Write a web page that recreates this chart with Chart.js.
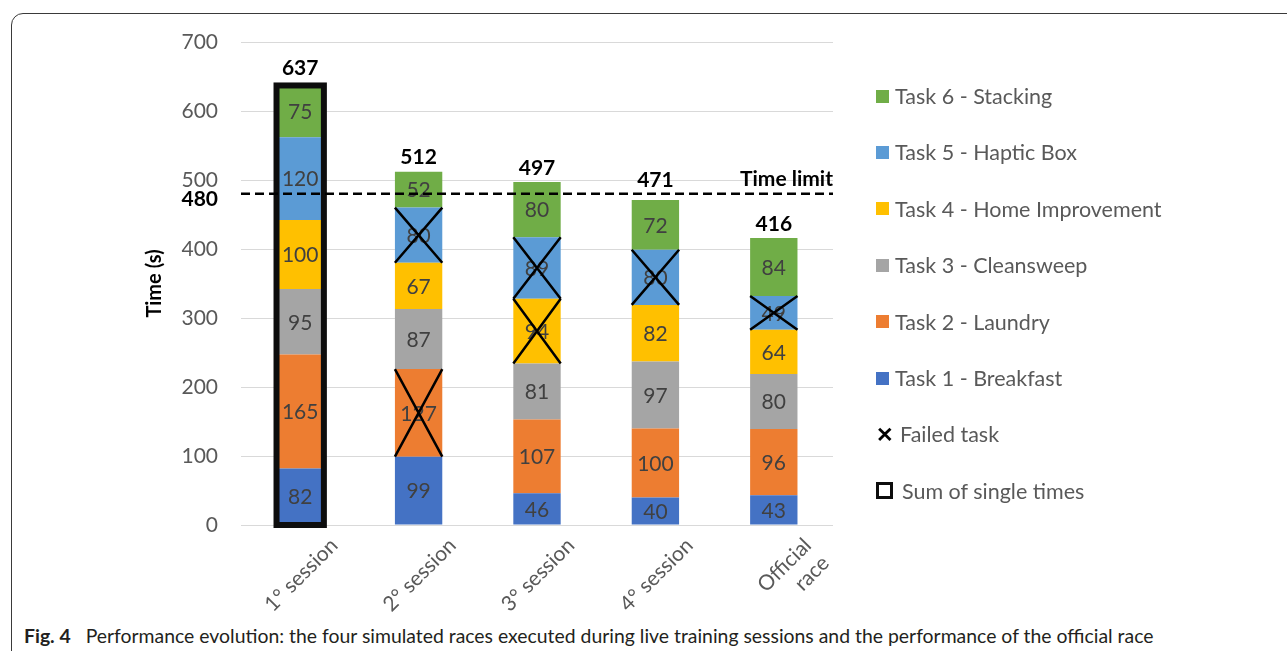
<!DOCTYPE html>
<html>
<head>
<meta charset="utf-8">
<script src="https://cdn.jsdelivr.net/npm/chart.js@4.4.1/dist/chart.umd.min.js"></script>
<style>
  html, body { margin: 0; padding: 0; background: #fff; }
  body { width: 1287px; height: 651px; position: relative; overflow: hidden; font-family: Lato, sans-serif; }
  #frame { position: absolute; left: 11px; top: 13px; width: 1320px; height: 700px; border: 1.5px solid #3a3a3a; border-radius: 12px 0 0 0; box-sizing: border-box; }
  #wrap { position: absolute; left: 0; top: 0; width: 1287px; height: 620px; }
  #legend { position: absolute; left: 876px; top: 0; }
  .item { position: absolute; left: 0; height: 26px; white-space: nowrap; font-size: 21.5px; color: #595959; display: flex; align-items: center; }
  .sw { display: inline-block; width: 13px; height: 13px; margin-right: 6px; }
  .box { display: inline-block; width: 11px; height: 11px; border: 3px solid #0d0d0d; margin-right: 9px; }
  .cross { display: inline-block; width: 16px; font-weight: bold; color: #000; font-size: 21px; margin-right: 8px; }
  #caption { position: absolute; left: 24px; top: 624px; font-size: 19.4px; color: #231f20; white-space: nowrap; }
  #caption b { margin-right: 10px; }
</style>
</head>
<body>
<div id="frame"></div>
<div id="wrap"><canvas id="chart" width="1287" height="620"></canvas></div>
<div id="legend"></div>
<div id="caption"><b>Fig. 4</b> Performance evolution: the four simulated races executed during live training sessions and the performance of the official race</div>
<script>
// categories and task times (s)
const categories = ['1° session', '2° session', '3° session', '4° session', ['Official', 'race']];
const task1 = [82, 99, 46, 40, 43];
const task2 = [165, 127, 107, 100, 96];
const task3 = [95, 87, 81, 97, 80];
const task4 = [100, 67, 94, 82, 64];
const task5 = [120, 80, 89, 80, 49];
const task6 = [75, 52, 80, 72, 84];
const taskNames = ['Task 1 - Breakfast', 'Task 2 - Laundry', 'Task 3 - Cleansweep', 'Task 4 - Home Improvement', 'Task 5 - Haptic Box', 'Task 6 - Stacking'];
const taskColors = ['#4472C4', '#ED7D31', '#A5A5A5', '#FFC000', '#5B9BD5', '#70AD47'];
// failed tasks as [category index, task index]
const failed = [[1, 1], [1, 4], [2, 3], [2, 4], [3, 4], [4, 4]];
// categories shown as "sum of single times"
const sumCategories = [0];
const timeLimit = 480;
const yTicks = [0, 100, 200, 300, 400, 500, 600, 700];

const series = [task1, task2, task3, task4, task5, task6];
const totals = categories.map((c, i) => series.reduce((s, arr) => s + arr[i], 0));

const FONT = 'Lato, sans-serif';
// how far above each bar top the total label sits (px), nudged by hand like the original
const totalLift = [17, 14, 14, 20, 14];

// legend (html, reversed like the original)
const legend = document.getElementById('legend');
let rowY = 96;
for (let t = taskNames.length - 1; t >= 0; t--) {
    const d = document.createElement('div');
    d.className = 'item';
    d.style.top = (rowY - 13) + 'px';
    d.innerHTML = '<span class="sw" style="background:' + taskColors[t] + '"></span>' + taskNames[t];
    legend.appendChild(d);
    rowY += 56.4;
}
const failItem = document.createElement('div');
failItem.className = 'item';
failItem.style.top = (rowY - 13) + 'px';
failItem.innerHTML = '<span class="cross">✕</span>Failed task';
legend.appendChild(failItem);
rowY += 56.4;
const sumItem = document.createElement('div');
sumItem.className = 'item';
sumItem.style.top = (rowY - 13) + 'px';
sumItem.innerHTML = '<span class="box"></span>Sum of single times';
legend.appendChild(sumItem);

const overlay = {
    id: 'overlay',
    afterDatasetsDraw(chart) {
        const ctx = chart.ctx;
        const y = chart.scales.y;
        const area = chart.chartArea;
        ctx.save();

        // values inside segments
        ctx.font = '21px ' + FONT;
        ctx.fillStyle = '#404040';
        ctx.textAlign = 'center';
        ctx.textBaseline = 'middle';
        series.forEach((arr, t) => {
            const meta = chart.getDatasetMeta(t);
            meta.data.forEach((bar, i) => {
                ctx.fillText(String(arr[i]), bar.x, (bar.y + bar.base) / 2 + 1);
            });
        });

        // failed crosses
        ctx.strokeStyle = '#000';
        ctx.lineWidth = 2.5;
        failed.forEach(([i, t]) => {
            const bar = chart.getDatasetMeta(t).data[i];
            const l = bar.x - bar.width / 2, r = bar.x + bar.width / 2;
            ctx.beginPath();
            ctx.moveTo(l, bar.y); ctx.lineTo(r, bar.base);
            ctx.moveTo(r, bar.y); ctx.lineTo(l, bar.base);
            ctx.stroke();
        });

        // sum outline
        ctx.lineWidth = 6;
        ctx.strokeStyle = '#0d0d0d';
        sumCategories.forEach(i => {
            const bar = chart.getDatasetMeta(0).data[i];
            const top = y.getPixelForValue(totals[i]);
            const bottom = y.getPixelForValue(0);
            ctx.strokeRect(bar.x - bar.width / 2, top, bar.width, bottom - top);
        });

        // totals
        ctx.font = 'bold 21px ' + FONT;
        ctx.fillStyle = '#000';
        ctx.textBaseline = 'middle';
        totals.forEach((v, i) => {
            const bar = chart.getDatasetMeta(0).data[i];
            ctx.fillText(String(v), bar.x, y.getPixelForValue(v) - totalLift[i]);
        });

        // time limit line
        const ly = y.getPixelForValue(timeLimit);
        ctx.setLineDash([9, 5]);
        ctx.lineWidth = 2.5;
        ctx.strokeStyle = '#000';
        ctx.beginPath();
        ctx.moveTo(area.left, ly);
        ctx.lineTo(area.right, ly);
        ctx.stroke();
        ctx.setLineDash([]);
        ctx.textAlign = 'right';
        ctx.textBaseline = 'alphabetic';
        ctx.fillText('Time limit', area.right, ly - 8);
        ctx.textBaseline = 'middle';
        ctx.fillText(String(timeLimit), area.left - 23, ly + 5);
        ctx.restore();
    }
};

new Chart(document.getElementById('chart').getContext('2d'), {
    type: 'bar',
    data: {
        labels: categories,
        datasets: series.map((arr, t) => ({
            label: taskNames[t],
            data: arr,
            backgroundColor: taskColors[t],
            borderWidth: 0,
            barPercentage: 0.4,
            categoryPercentage: 1
        }))
    },
    options: {
        responsive: false,
        animation: false,
        layout: { padding: { left: 130, right: 454, top: 42, bottom: 0 } },
        plugins: {
            legend: { display: false },
            tooltip: { enabled: false }
        },
        scales: {
            x: {
                stacked: true,
                grid: { display: false },
                border: { display: false },
                ticks: {
                    color: '#595959',
                    font: { family: FONT, size: 21 },
                    minRotation: 45,
                    maxRotation: 45,
                    labelOffset: 34,
                    padding: 0
                },
                afterFit(scale) { scale.height = 95; }
            },
            y: {
                stacked: true,
                min: 0,
                max: 700,
                afterBuildTicks(scale) { scale.ticks = yTicks.map(v => ({ value: v })); },
                grid: { color: '#d9d9d9', lineWidth: 1, drawTicks: false },
                border: { display: false },
                ticks: {
                    color: '#595959',
                    font: { family: FONT, size: 21 },
                    padding: 23
                },
                title: {
                    display: true,
                    text: 'Time (s)',
                    color: '#000',
                    font: { family: FONT, size: 20, weight: 'bold' },
                    padding: { top: 13, bottom: 0 }
                },
                afterFit(scale) { scale.width = 111; }
            }
        }
    },
    plugins: [overlay]
});
</script>
</body>
</html>
